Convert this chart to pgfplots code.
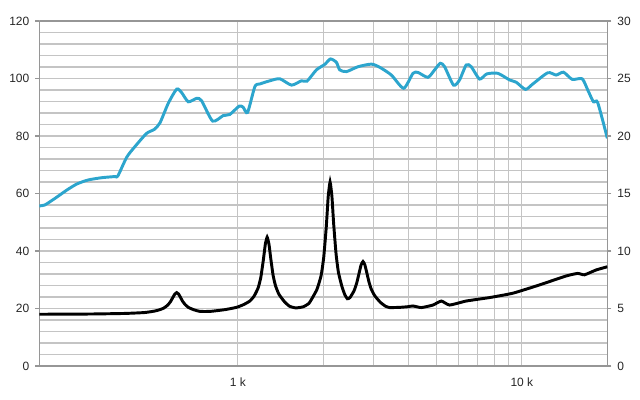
\documentclass[border=0pt]{standalone}
\usepackage{pgfplots}
\pgfplotsset{compat=1.18}
\usepackage{fontspec}
\setmainfont{Liberation Sans}
\definecolor{spl}{RGB}{44,165,205}
\definecolor{gridc}{RGB}{196,196,196}
\definecolor{axc}{RGB}{150,150,150}
\begin{document}
\begin{tikzpicture}
\begin{axis}[
  scale only axis, width=426pt, height=258.75pt,
  xmode=log, xmin=200, xmax=20000,
  /pgf/number format/assume math mode=true,
  tick label style={font=\fontsize{9}{10}\selectfont, text=black!85},
  axis line style={axc, line width=0.8pt},
  tick style={axc, line width=0.8pt},
  tick align=outside,
  major tick length=3pt, minor tick length=0pt,
  ymin=0, ymax=120,
  ytick={0,20,...,120},
  minor y tick num=4,
  xtick={1000,10000}, xticklabels={1 k,10 k},
  xmajorgrids, xminorgrids, ymajorgrids, yminorgrids,
  grid style={gridc, line width=0.9pt},
  minor grid style={gridc, line width=0.9pt},
  axis y line*=left, axis x line*=bottom,
  x tick style={draw=none},
  xticklabel style={yshift=-2pt},
  yticklabel style={xshift=-1pt},
]
\draw[axc, line width=0.8pt] (rel axis cs:0,1) -- (rel axis cs:1,1);
\addplot[spl, line width=2.2pt, smooth, tension=0.4] coordinates {
(200,55.7)(209,56.0)(227,58.3)(250,61.2)(271,63.3)(297,64.7)(332,65.5)(369,65.9)(378,66.1)
(406,72.6)(434,76.3)(477,80.9)(508,82.3)(532,84.6)(569,91.4)(609,96.3)(634,95.1)(669,91.9)
(716,93.1)(745,92.3)(815,85.2)(888,87.1)(937,87.5)(1011,90.4)(1044,90.0)(1082,88.2)
(1148,97.2)(1195,98.1)(1296,99.2)(1405,99.9)(1545,97.7)(1675,99.2)(1753,99.1)(1891,103)
(2023,104.9)(2119,106.8)(2224,105.6)(2284,103)(2412,102.4)(2650,104.1)(2953,105)(3159,103.9)
(3472,101.2)(3836,96.6)(4136,101.8)(4307,102.1)(4669,100.4)(4929,103)(5162,105.3)(5345,104.1)
(5747,97.7)(6033,99.5)(6369,104.7)(6633,104.1)(7096,99.8)(7527,101.6)(8232,101.8)(9050,99.5)
(9555,98.7)(10302,96.2)(10929,98.1)(12342,102)(13207,101.2)(14010,102.2)(15039,99.7)(16306,99.9)
(17063,96)(17868,91.9)(18500,91.6)(20000,79.2)
};
\end{axis}
\begin{axis}[
  scale only axis, width=426pt, height=258.75pt,
  xmode=log, xmin=200, xmax=20000,
  /pgf/number format/assume math mode=true,
  tick label style={font=\fontsize{9}{10}\selectfont, text=black!85},
  axis line style={axc, line width=0.8pt},
  tick style={axc, line width=0.8pt},
  tick align=outside,
  major tick length=3pt, minor tick length=0pt,
  ymin=0, ymax=30,
  ytick={0,5,...,30},
  axis y line*=right, axis x line=none,
  yticklabel style={xshift=1pt},
]
\addplot[black, line width=2.2pt, smooth, tension=0.3] coordinates {
(200,4.5)(300,4.52)(400,4.57)(470,4.65)(510,4.78)(530,4.89)(548,5.03)(566,5.29)(579,5.59)(591,5.98)
(600,6.26)(609,6.38)(618,6.27)(627,6.0)(639,5.63)(652,5.35)(670,5.09)(700,4.89)(735,4.75)(800,4.75)
(900,4.9)(989,5.1)(1050,5.35)(1102,5.65)(1141,6.08)(1179,6.8)(1205,7.73)(1230,9.25)(1249,10.56)
(1268,11.2)(1287,10.58)(1306,9.33)(1331,7.88)(1357,6.98)(1395,6.24)(1458,5.6)(1520,5.2)(1600,5.05)
(1700,5.15)(1780,5.45)(1837,6.0)(1901,6.69)(1964,7.86)(2006,9.45)(2049,12.17)(2080,14.71)(2112,16.0)
(2144,14.74)(2175,12.32)(2218,9.71)(2260,8.15)(2323,6.95)(2380,6.2)(2430,5.85)(2482,5.95)(2565,6.54)
(2620,7.2)(2675,8.12)(2717,8.8)(2758,9.08)(2799,8.81)(2841,8.17)(2896,7.3)(2951,6.67)(3034,6.11)
(3172,5.55)(3310,5.2)(3424,5.08)(3713,5.1)(3950,5.15)(4136,5.22)(4426,5.08)
(4863,5.3)(5205,5.65)(5567,5.3)(6369,5.65)(7695,5.95)(9295,6.33)(11536,7.05)(14325,7.83)(15738,8.05)
(16617,7.93)(18259,8.35)(20000,8.63)
};
\end{axis}
\pgfresetboundingbox
\path (-29.5pt,-25.5pt) rectangle (450.5pt,274.5pt);
\end{tikzpicture}
\end{document}
